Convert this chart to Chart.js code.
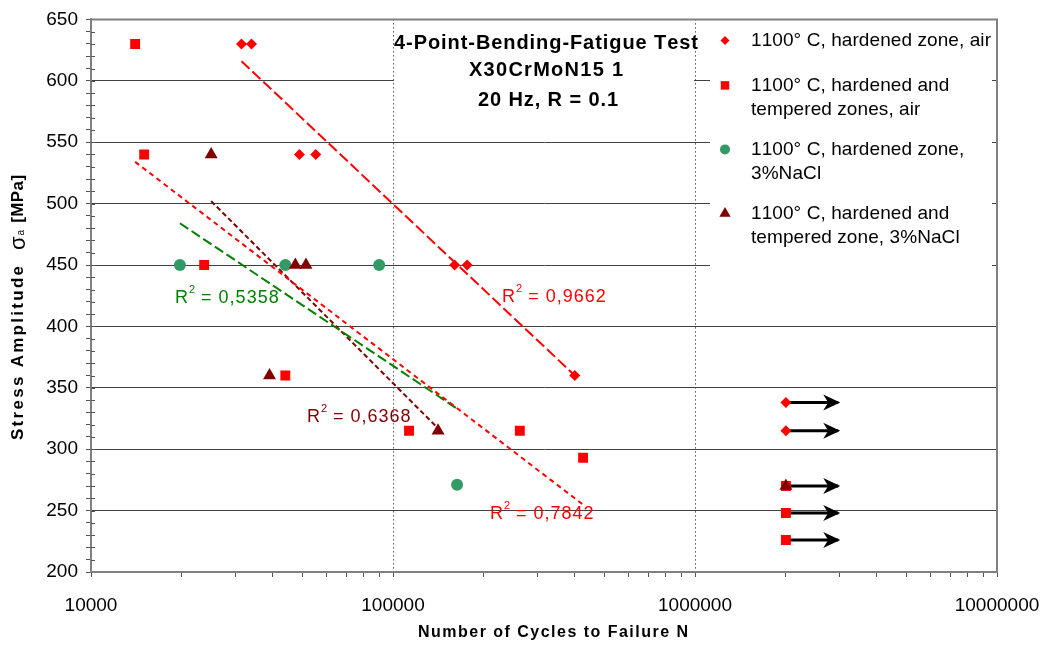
<!DOCTYPE html>
<html>
<head>
<meta charset="utf-8">
<script src="https://cdn.jsdelivr.net/npm/chart.js@4.4.0/dist/chart.umd.min.js"></script>
<style>
  html, body { margin: 0; padding: 0; background: #fff; }
  canvas { display: block; }
</style>
</head>
<body>
<canvas id="grafica" width="1048" height="646"></canvas>
<script>
// ---- datos ----
const seriesNames = [
  '1100° C, hardened zone, air',
  '1100° C, hardened and tempered zones, air',
  '1100° C, hardened zone, 3%NaCl',
  '1100° C, hardened and tempered zone, 3%NaCl'
];
// 1100 C, hardened zone, air (rombos)
const hzAirN = [31500, 34000, 49000, 55500, 160000, 176000, 400000, 2000000, 2000000];
const hzAirS = [630, 630, 540, 540, 450, 450, 360, 338, 315];
// 1100 C, hardened and tempered zones, air (cuadrados)
const htAirN = [14000, 15000, 23700, 44000, 113000, 263000, 426000, 2000000, 2000000, 2000000];
const htAirS = [630, 540, 450, 360, 315, 315, 293, 270, 248, 226];
// 1100 C, hardened zone, 3%NaCl (circulos)
const hzNaclN = [19700, 44000, 90000, 163000];
const hzNaclS = [450, 450, 450, 271];
// 1100 C, hardened and tempered zone, 3%NaCl (triangulos)
const htNaclN = [25000, 39000, 47500, 51500, 141000, 2000000];
const htNaclS = [540, 360, 450, 450, 315, 270];

// lineas de tendencia (extremos)
const trendN = [[31500, 400000], [14000, 425000], [19700, 163000], [25000, 141000]];
const trendS = [[616, 360], [534, 255], [484, 333], [502, 317]];
const r2Values = ['0,9662', '0,7842', '0,5358', '0,6368'];
const r2N = [229600, 209400, 18970, 51880];
const r2S = [424, 247, 423, 326];

// ensayos sin rotura (flechas)
const runoutFrom = 2000000;
const runoutTo = 2980000;
const runoutS = [338, 315, 270, 248, 226];

const xDecades = [10000, 100000, 1000000, 10000000];
const yMin = 200, yMax = 650, yStep = 10, yLabelStep = 50;

const titleLines = ['4-Point-Bending-Fatigue Test', 'X30CrMoN15 1', '20 Hz, R = 0.1'];
const legendLines = [
  ['1100° C, hardened zone, air'],
  ['1100° C, hardened and', 'tempered zones, air'],
  ['1100° C, hardened zone,', '3%NaCl'],
  ['1100° C, hardened and', 'tempered zone, 3%NaCl']
];

const RED = '#ff0000';
const GREEN_PT = '#339966';
const GREEN = '#008000';
const DARKRED = '#800000';
const FONT = '"Liberation Sans", Arial, sans-serif';

const pts = (xs, ys) => xs.map((v, i) => ({ x: v, y: ys[i] }));

// ticks del eje x: 1..9 por decada
const xTickVals = [];
for (let d = 0; d < xDecades.length - 1; d++) {
  for (let m = 1; m < 10; m++) xTickVals.push(xDecades[d] * m);
}
xTickVals.push(xDecades[xDecades.length - 1]);

const styles = [
  { color: RED, style: 'rectRot', r: 5.5 },
  { color: RED, style: 'rect', r: 7 },
  { color: GREEN_PT, style: 'circle', r: 6 },
  { color: DARKRED, style: 'triangle', r: 7.5 }
];
const trendStyle = [
  { color: RED, dash: [11, 4] },
  { color: RED, dash: [5, 4] },
  { color: GREEN, dash: [10, 4] },
  { color: DARKRED, dash: [5, 3] }
];

const datasets = [];
// orden: triangulos arriba
const seriesData = [pts(hzAirN, hzAirS), pts(htAirN, htAirS), pts(hzNaclN, hzNaclS), pts(htNaclN, htNaclS)];
const seriesOrder = [3, 2, 1, 0];
seriesData.forEach((d, i) => {
  datasets.push({
    label: seriesNames[i],
    data: d,
    order: seriesOrder[i],
    pointStyle: styles[i].style,
    pointRadius: styles[i].r,
    pointBackgroundColor: styles[i].color,
    pointBorderColor: styles[i].color,
    pointBorderWidth: 0,
    showLine: false
  });
});
trendN.forEach((n, i) => {
  datasets.push({
    label: 'trend ' + i,
    data: pts(n, trendS[i]),
    order: 5,
    showLine: true,
    borderColor: trendStyle[i].color,
    borderDash: trendStyle[i].dash,
    borderWidth: 2,
    pointRadius: 0
  });
});
runoutS.forEach((s, i) => {
  datasets.push({
    label: 'runout ' + i,
    data: pts([runoutFrom, runoutTo], [s, s]),
    order: 6,
    arrow: true,
    showLine: true,
    borderColor: '#000',
    borderWidth: 3,
    pointRadius: 0
  });
});

// texto con espaciado entre letras para ocupar un ancho
function fitText(ctx, str, x, y, width, align) {
  const chars = Array.from(str);
  const ws = chars.map(c => ctx.measureText(c).width);
  const natural = ws.reduce((a, b) => a + b, 0);
  const gap = chars.length > 1 ? (width - natural) / (chars.length - 1) : 0;
  let cx = align === 'center' ? x - width / 2 : (align === 'right' ? x - width : x);
  ctx.textAlign = 'left';
  chars.forEach((c, i) => { ctx.fillText(c, cx, y); cx += ws[i] + gap; });
  return cx - gap;
}
function spacedText(ctx, str, x, y, gap) {
  const chars = Array.from(str);
  let cx = x;
  ctx.textAlign = 'left';
  chars.forEach(c => { ctx.fillText(c, cx, y); cx += ctx.measureText(c).width + gap; });
  return cx - gap;
}

const decor = {
  id: 'decor',
  beforeDatasetsDraw(chart) {
    const { ctx, chartArea: a, scales: { x, y } } = chart;
    ctx.save();
    // cuadro del titulo y de la leyenda
    ctx.fillStyle = '#fff';
    const tx1 = x.getPixelForValue(xDecades[1]) + 1;
    const tx2 = x.getPixelForValue(xDecades[2]) - 1;
    ctx.fillRect(tx1, a.top + 1, tx2 - tx1, y.getPixelForValue(565) - a.top);
    const lx1 = x.getPixelForValue(xDecades[2]) + 15;
    ctx.fillRect(lx1, a.top + 1, a.right - 5 - lx1, y.getPixelForValue(420) - a.top);

    // marco
    ctx.strokeStyle = '#808080';
    ctx.lineWidth = 2;
    ctx.beginPath();
    ctx.moveTo(a.left, a.top);
    ctx.lineTo(a.right, a.top);
    ctx.lineTo(a.right, a.bottom);
    ctx.stroke();

    // marcas pequeñas que cruzan el eje y
    ctx.strokeStyle = '#555';
    ctx.lineWidth = 1;
    ctx.beginPath();
    for (let v = yMin + yStep; v < yMax; v += yStep) {
      const py = Math.round(y.getPixelForValue(v)) + 0.5;
      ctx.moveTo(a.left, py);
      ctx.lineTo(a.left + 4, py);
    }
    ctx.stroke();

    // titulo
    const tc = (tx1 + tx2) / 2 + 2;
    ctx.fillStyle = '#000';
    ctx.textBaseline = 'middle';
    ctx.font = 'bold 20px ' + FONT;
    fitText(ctx, titleLines[0], tc, a.top + 24, 304, 'center');
    fitText(ctx, titleLines[1], tc, a.top + 51, 154, 'center');
    fitText(ctx, titleLines[2], tc + 2, a.top + 81, 140, 'center');

    // leyenda
    ctx.font = '19px ' + FONT;
    const rowY = [21, 66, 130, 194];
    const mx = lx1 + 15;
    const txt = lx1 + 41;
    const probe = Array.from(legendLines[0][0]);
    const nat = probe.reduce((s, c) => s + ctx.measureText(c).width, 0);
    const gap = (240 - nat) / (probe.length - 1);
    legendLines.forEach((lines, i) => {
      const yy = a.top + rowY[i];
      ctx.fillStyle = styles[i].color;
      Chart.helpers.drawPoint(ctx, { pointStyle: styles[i].style, radius: styles[i].r - 1, rotation: 0, borderWidth: 0 }, mx, yy);
      ctx.fillStyle = '#000';
      lines.forEach((t, j) => spacedText(ctx, t, txt, yy + j * 24, gap));
    });
    ctx.restore();
  },
  afterDatasetsDraw(chart) {
    const { ctx, scales: { x, y } } = chart;
    ctx.save();
    // puntas de flecha
    chart.data.datasets.forEach((ds, i) => {
      if (!ds.arrow) return;
      const p = chart.getDatasetMeta(i).data[1];
      ctx.fillStyle = '#000';
      ctx.beginPath();
      ctx.moveTo(p.x + 2, p.y);
      ctx.lineTo(p.x - 15, p.y - 8);
      ctx.lineTo(p.x - 10, p.y);
      ctx.lineTo(p.x - 15, p.y + 8);
      ctx.closePath();
      ctx.fill();
    });
    // etiquetas R2
    const r2Colors = [RED, RED, GREEN, DARKRED];
    ctx.textBaseline = 'middle';
    r2Values.forEach((v, i) => {
      const px = x.getPixelForValue(r2N[i]);
      const py = y.getPixelForValue(r2S[i]);
      ctx.fillStyle = r2Colors[i];
      ctx.font = '18px ' + FONT;
      let cx = spacedText(ctx, 'R', px, py, 0.8);
      ctx.font = '11px ' + FONT;
      cx = spacedText(ctx, '2', cx + 1, py - 8, 0);
      ctx.font = '18px ' + FONT;
      spacedText(ctx, ' = ' + v, cx, py, 1);
    });
    ctx.restore();
  },
  afterDraw(chart) {
    const { ctx, chartArea: a } = chart;
    ctx.save();
    ctx.fillStyle = '#000';
    ctx.textBaseline = 'middle';
    // titulo eje x
    ctx.font = 'bold 16px ' + FONT;
    fitText(ctx, 'Number of Cycles to Failure N', (a.left + a.right) / 2 + 9, 633, 270, 'center');
    // titulo eje y (girado)
    ctx.translate(18, 440);
    ctx.rotate(-Math.PI / 2);
    ctx.font = 'bold 17px ' + FONT;
    let cx = fitText(ctx, 'Stress Amplitude', 0, 0, 174, 'left');
    ctx.font = '22px ' + FONT;
    cx = spacedText(ctx, 'σ', cx + 16, 1, 0);
    ctx.font = '10px ' + FONT;
    cx = spacedText(ctx, 'a', cx + 1, 3, 0);
    ctx.font = 'bold 17px ' + FONT;
    fitText(ctx, '[MPa]', cx + 7, 0, 48, 'left');
    ctx.restore();
  }
};

const isDecade = v => Math.abs(Math.log10(v) - Math.round(Math.log10(v))) < 1e-9;

new Chart(document.getElementById('grafica'), {
  type: 'scatter',
  data: { datasets },
  options: {
    responsive: false,
    animation: false,
    devicePixelRatio: 1,
    layout: { padding: { top: 16, right: 51, left: 0, bottom: 0 } },
    plugins: { legend: { display: false }, tooltip: { enabled: false } },
    scales: {
      x: {
        type: 'logarithmic',
        min: xDecades[0],
        max: xDecades[xDecades.length - 1],
        afterBuildTicks: s => { s.ticks = xTickVals.map(v => ({ value: v })); },
        ticks: {
          autoSkip: false, maxRotation: 0, minRotation: 0, padding: 8,
          color: '#000', font: { family: FONT, size: 19, lineHeight: 2.2 },
          callback: v => isDecade(v) ? String(Math.round(v)) : ''
        },
        grid: {
          color: c => c.tick && (c.tick.value === xDecades[1] || c.tick.value === xDecades[2]) ? '#000' : 'rgba(0,0,0,0)',
          tickColor: '#555', tickLength: 5, lineWidth: 1
        },
        border: { color: '#808080', width: 2, dash: c => c.tick ? [1, 3] : [] },
        afterFit: s => { s.height = 74; }
      },
      y: {
        min: yMin, max: yMax,
        ticks: {
          stepSize: yStep, autoSkip: false, padding: 8,
          color: '#000', font: { family: FONT, size: 19 },
          callback: v => v % yLabelStep === 0 ? v : ''
        },
        grid: {
          color: c => c.tick && c.tick.value % yLabelStep === 0 ? '#404040' : 'rgba(0,0,0,0)',
          tickColor: '#555', tickLength: 5, lineWidth: 1
        },
        border: { color: '#808080', width: 2 },
        afterFit: s => { s.width = 91; }
      }
    }
  },
  plugins: [decor]
});
</script>
</body>
</html>
